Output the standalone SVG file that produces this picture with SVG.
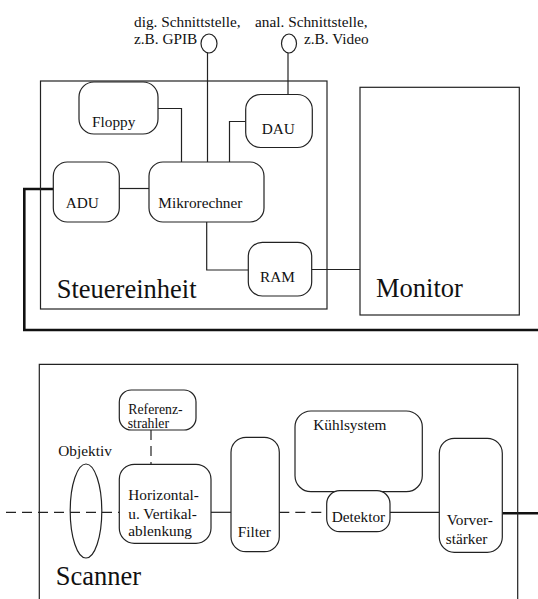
<svg xmlns="http://www.w3.org/2000/svg" width="538" height="599" viewBox="0 0 538 599" font-family="'Liberation Serif', 'Times New Roman', 'DejaVu Serif', serif">
<style>
.b{fill:none;stroke:#222;stroke-width:1.2}
.n{fill:#fff;stroke:#222;stroke-width:1.2}
.l{fill:none;stroke:#222;stroke-width:1.2}
.d{fill:none;stroke:#222;stroke-width:1.2;stroke-dasharray:10 6}
.t{fill:none;stroke:#111;stroke-width:2.6}
text{font-family:'Liberation Serif','Times New Roman','DejaVu Serif',serif;fill:#111}
.s{font-size:15.3px}
.r{font-size:13.8px}
.big{font-size:26.5px}
</style>
<rect width="538" height="599" fill="#fff"/>
<g id="connectors">
<path class="l" d="M207.5,53 V162"/>
<path class="l" d="M288,53 V94.5"/>
<path class="l" d="M158,108.5 H181.5 V162"/>
<path class="l" d="M245.7,121.5 H229.5 V162"/>
<path class="l" d="M119,188.5 H149"/>
<path class="l" d="M206.7,222 V270 H248.3"/>
<path class="l" d="M311.7,269.5 H360"/>
<path class="t" d="M53.3,189 H24.3 V330 H538"/>
<path class="d" d="M6,512.3 H119.3"/>
<path class="d" d="M151,430 V464.3"/>
<path class="l" d="M211,512.3 H231"/>
<path class="d" d="M279.3,512.3 H326.7"/>
<path class="l" d="M390,512.3 H439.3"/>
<path class="t" d="M502.3,513.3 H538"/>
</g>
<g id="steuereinheit">
<rect class="b" x="40.5" y="81" width="286.5" height="228"/>
<text class="big" x="56.7" y="297.7">Steuereinheit</text>
</g>
<g id="dig-schnittstelle">
<ellipse class="n" cx="209" cy="43.5" rx="8" ry="9.5"/>
<text class="s" x="134" y="26.7">dig. Schnittstelle,</text>
<text class="s" x="134" y="44">z.B. GPIB</text>
</g>
<g id="anal-schnittstelle">
<ellipse class="n" cx="289" cy="43.5" rx="7.5" ry="9.5"/>
<text class="s" x="255" y="26.7">anal. Schnittstelle,</text>
<text class="s" x="304" y="44">z.B. Video</text>
</g>
<g id="floppy">
<rect class="n" x="79" y="82" width="79" height="52" rx="15"/>
<text class="s" x="92" y="126.7">Floppy</text>
</g>
<g id="dau">
<rect class="n" x="245.7" y="94.5" width="66.6" height="53" rx="15"/>
<text class="s" x="261.7" y="134">DAU</text>
</g>
<g id="adu">
<rect class="n" x="53.3" y="162" width="66" height="60" rx="14"/>
<text class="s" x="65.7" y="208.3">ADU</text>
</g>
<g id="mikrorechner">
<rect class="n" x="149" y="162" width="115" height="60" rx="14"/>
<text class="s" x="158.3" y="208.3">Mikrorechner</text>
</g>
<g id="ram">
<rect class="n" x="248.3" y="242.3" width="63.4" height="53.7" rx="14"/>
<text class="s" x="260" y="281.7">RAM</text>
</g>
<g id="monitor">
<rect class="b" x="360" y="87.3" width="159.3" height="227.7"/>
<text class="big" x="376" y="297.3">Monitor</text>
</g>
<g id="scanner">
<path class="b" d="M39.3,599 V364.3 H517.7 V599"/>
<text class="big" x="55.7" y="585">Scanner</text>
</g>
<g id="objektiv">
<ellipse class="b" cx="86" cy="511" rx="15.8" ry="47"/>
<text class="s" x="58.3" y="456">Objektiv</text>
</g>
<g id="referenzstrahler">
<rect class="n" x="119.3" y="390" width="76.7" height="40" rx="12"/>
<text class="r" x="128.3" y="414.3">Referenz-</text>
<text class="r" x="127.7" y="428.1">strahler</text>
</g>
<g id="ablenkung">
<rect class="n" x="119.3" y="464.3" width="91.7" height="79" rx="15"/>
<text class="s" x="128.3" y="499.5">Horizontal-</text>
<text class="s" x="128.3" y="518.5">u. Vertikal-</text>
<text class="s" x="128.3" y="535.5">ablenkung</text>
</g>
<g id="filter">
<rect class="n" x="231" y="437.3" width="48.3" height="114.4" rx="15"/>
<text class="s" x="237.7" y="536.7">Filter</text>
</g>
<g id="kuehlsystem">
<rect class="n" x="295" y="411" width="127.3" height="80.7" rx="16"/>
<text class="s" x="313.3" y="430">Kühlsystem</text>
</g>
<g id="detektor">
<rect class="n" x="326.7" y="490.7" width="63.3" height="41" rx="13"/>
<text class="s" x="331.7" y="522.3">Detektor</text>
</g>
<g id="vorverstaerker">
<rect class="n" x="439.3" y="438.3" width="63" height="114" rx="15"/>
<text class="s" x="446.7" y="525">Vorver-</text>
<text class="s" x="445.7" y="544.3">stärker</text>
</g>
</svg>
